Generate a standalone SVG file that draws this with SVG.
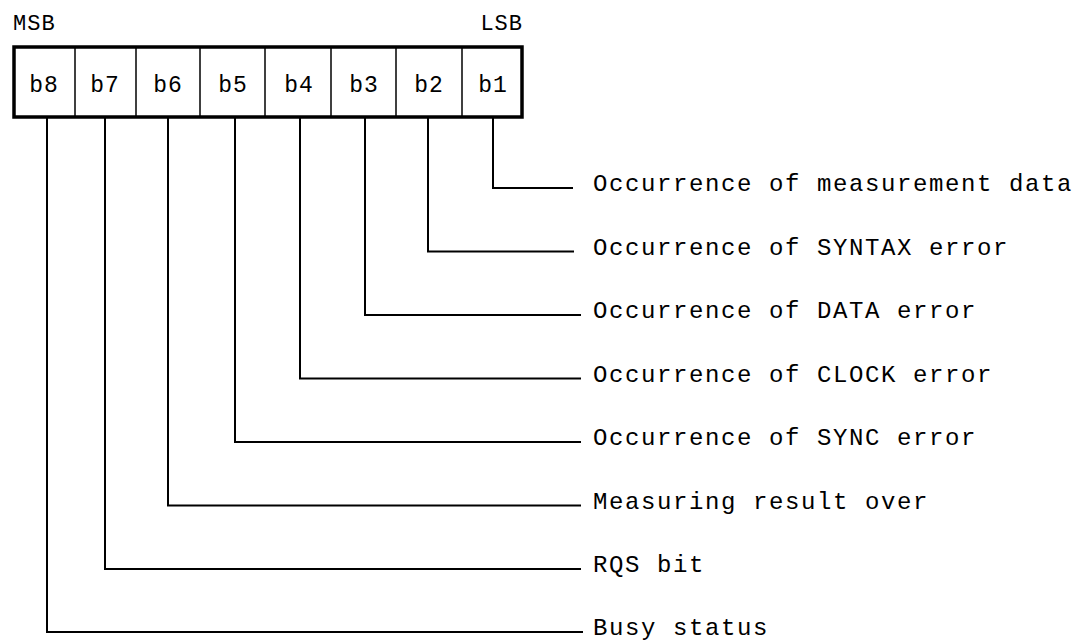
<svg xmlns="http://www.w3.org/2000/svg" width="1076" height="644" viewBox="0 0 1076 644">
<style>
text{font-family:"Liberation Mono","Courier New",monospace;fill:#000}
.lbl{font-size:24px;letter-spacing:1.6px}
.bit{font-size:23px;text-anchor:middle;letter-spacing:1px}
.hdr{font-size:22px;letter-spacing:1px}
.lead{fill:none;stroke:#000;stroke-width:2}
.div{stroke:#000;stroke-width:1.5}
</style>
<rect width="1076" height="644" fill="#fff"/>
<text class="hdr" x="13" y="30">MSB</text>
<text class="hdr" x="523" y="30" text-anchor="end">LSB</text>
<g id="register">
<rect x="14" y="47" width="508" height="70" fill="#fff" stroke="#000" stroke-width="3.5"/>
<line class="div" x1="75" y1="47" x2="75" y2="117"/>
<line class="div" x1="136" y1="47" x2="136" y2="117"/>
<line class="div" x1="200" y1="47" x2="200" y2="117"/>
<line class="div" x1="265" y1="47" x2="265" y2="117"/>
<line class="div" x1="331" y1="47" x2="331" y2="117"/>
<line class="div" x1="396" y1="47" x2="396" y2="117"/>
<line class="div" x1="462" y1="47" x2="462" y2="117"/>
</g>
<g id="b8"><text class="bit" x="44" y="92">b8</text></g>
<g id="b7"><text class="bit" x="105" y="92">b7</text></g>
<g id="b6"><text class="bit" x="168" y="92">b6</text></g>
<g id="b5"><text class="bit" x="233" y="92">b5</text></g>
<g id="b4"><text class="bit" x="299" y="92">b4</text></g>
<g id="b3"><text class="bit" x="364" y="92">b3</text></g>
<g id="b2"><text class="bit" x="429" y="92">b2</text></g>
<g id="b1"><text class="bit" x="493" y="92">b1</text></g>
<g id="connectors">
<polyline class="lead" points="493,118 493,188 573,188"/>
<polyline class="lead" points="428,118 428,251.5 574,251.5"/>
<polyline class="lead" points="365,118 365,315 581,315"/>
<polyline class="lead" points="300,118 300,378.5 581,378.5"/>
<polyline class="lead" points="235,118 235,442 581,442"/>
<polyline class="lead" points="168,118 168,505.5 581,505.5"/>
<polyline class="lead" points="105,118 105,569 581,569"/>
<polyline class="lead" points="47,118 47,632 583,632"/>
</g>
<g id="label-b1"><text class="lbl" x="593" y="191">Occurrence of measurement data</text></g>
<g id="label-b2"><text class="lbl" x="593" y="254.5">Occurrence of SYNTAX error</text></g>
<g id="label-b3"><text class="lbl" x="593" y="318">Occurrence of DATA error</text></g>
<g id="label-b4"><text class="lbl" x="593" y="381.5">Occurrence of CLOCK error</text></g>
<g id="label-b5"><text class="lbl" x="593" y="445">Occurrence of SYNC error</text></g>
<g id="label-b6"><text class="lbl" x="593" y="508.5">Measuring result over</text></g>
<g id="label-b7"><text class="lbl" x="593" y="572">RQS bit</text></g>
<g id="label-b8"><text class="lbl" x="593" y="635">Busy status</text></g>
</svg>
